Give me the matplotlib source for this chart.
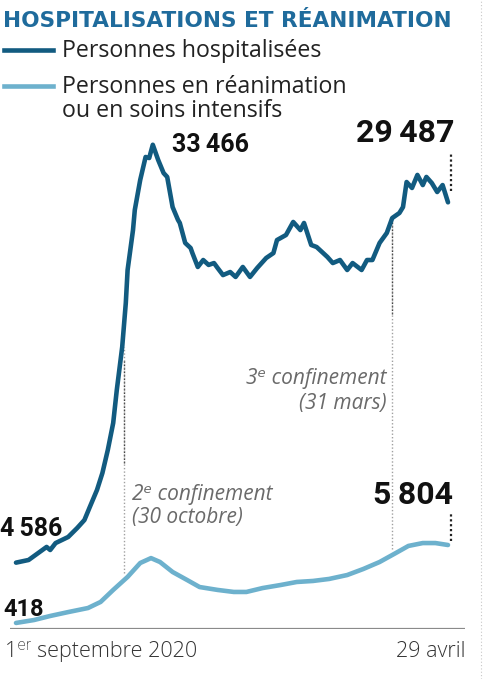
import matplotlib
matplotlib.use('Agg')
import matplotlib.pyplot as plt
from matplotlib.lines import Line2D

# days counted from 1 Sept 2020 (day 240 = 29 April 2021)
hosp_days = [0, 7, 17, 19, 22, 29, 34, 38, 41, 45, 48, 51, 54, 56, 59, 61, 62, 65,
             66, 69, 72, 74, 76, 79, 82, 84, 87, 90, 91, 94, 97, 98, 101, 104, 107,
             110, 112, 115, 119, 122, 126, 130, 134, 139, 143, 145, 150, 154, 158,
             160, 164, 167, 173, 176, 180, 184, 187, 192, 195, 198, 202, 206, 209,
             213, 215, 217, 220, 223, 226, 228, 231, 234, 237, 240]
hosp_vals = [4586, 4770, 5670, 5460, 5940, 6360, 6980, 7530, 8430, 9610, 10780,
             12370, 14240, 16520, 19490, 22530, 24810, 27570, 28960, 31030, 32620,
             32550, 33466, 32410, 31510, 31240, 29160, 28270, 28060, 26680, 26330,
             25980, 25020, 25500, 25160, 25290, 24950, 24460, 24670, 24330, 25020,
             24330, 24950, 25640, 25980, 26880, 27230, 28130, 27570, 28060, 26540,
             26400, 25710, 25290, 25500, 24810, 25290, 24810, 25500, 25500, 26680,
             27370, 28400, 28750, 29160, 30890, 30480, 31380, 30680, 31240, 30820,
             30200, 30680, 29487]

icu_days = [0, 10, 19, 29, 40, 47, 54, 62, 69, 75, 80, 87, 95, 102, 112, 121, 128,
            137, 147, 156, 165, 174, 184, 193, 202, 211, 218, 226, 233, 240]
icu_vals = [418, 620, 900, 1170, 1450, 1870, 2700, 3600, 4560, 4900, 4630, 3940,
            3390, 2900, 2700, 2560, 2560, 2830, 3040, 3250, 3320, 3460, 3730, 4150,
            4630, 5250, 5740, 5940, 5940, 5804]

conf2_day = 59    # 30 octobre
conf3_day = 211   # 31 mars

DARK = '#125b80'
LIGHT = '#6db1cd'
TITLE = '#1f6b9c'
GREY = '#6a6a6a'

W, H = 484, 679
fig = plt.figure(figsize=(W / 100, H / 100), dpi=100)

def fx(x):
    return x / W

def fy(y):
    return 1 - y / H

# axes: day 0 at px 16, day 240 at px 448 ; value 0 at px 629
ax = fig.add_axes([fx(10), fy(629), fx(465) - fx(10), fy(100) - fy(629)])
px_per_day = (448 - 16) / 240
ax.set_xlim(-(16 - 10) / px_per_day, 240 + (465 - 448) / px_per_day)
ax.set_ylim(0, 529 / 0.01447)
ax.axis('off')

ax.plot(icu_days, icu_vals, color=LIGHT, lw=3.3, solid_capstyle='round', zorder=3)
ax.plot(hosp_days, hosp_vals, color=DARK, lw=3.3, solid_capstyle='round', zorder=4)

# baseline
ax.axhline(0, color='#8a8a8a', lw=1.6, zorder=2)

# confinement markers
h2 = hosp_vals[hosp_days.index(conf2_day)]
ax.vlines(conf2_day + 0.8, 3900, h2, colors='#a0a0a0', linestyles=(0, (1, 1.5)), lw=1.0)
ax.vlines(conf2_day + 0.8, 11500, h2 - 800, colors='#444444', linestyles=(0, (1, 1.5)), lw=1.0)
ax.vlines(conf3_day - 2, 5500, 28200, colors='#a0a0a0', linestyles=(0, (1, 1.5)), lw=1.0)
ax.vlines(conf3_day - 2, 21800, 28200, colors='#444444', linestyles=(0, (1, 1.5)), lw=1.0)

# end markers
ax.vlines(241.5, 30300, 32950, colors='#222222', linestyles=(0, (1, 1.2)), lw=1.6)
ax.vlines(241.5, 6050, 8100, colors='#222222', linestyles=(0, (1, 1.2)), lw=1.6)

# title and legend
fig.text(fx(3), fy(27), 'HOSPITALISATIONS ET RÉANIMATION', color=TITLE,
         fontsize=15.6, fontweight='bold', family=['DejaVu Sans'],
         va='baseline', ha='left')
fig.add_artist(Line2D([fx(4), fx(53)], [fy(50), fy(50)], color=DARK, lw=3.3))
fig.add_artist(Line2D([fx(4), fx(53)], [fy(86), fy(86)], color=LIGHT, lw=3.3))
leg_kw = dict(fontsize=16.7, family=['Open Sans', 'DejaVu Sans'], color='#222222',
              va='baseline', ha='left')
fig.text(fx(62), fy(57), 'Personnes hospitalisées', **leg_kw)
fig.text(fx(62), fy(93), 'Personnes en réanimation', **leg_kw)
fig.text(fx(62), fy(117), 'ou en soins intensifs', **leg_kw)

# value labels
num_kw = dict(family=['Roboto', 'DejaVu Sans'], fontweight='bold', color='#111111',
              va='baseline')
fig.text(fx(172), fy(152), '33\u2009466', fontsize=18, ha='left', **num_kw)
fig.text(fx(455), fy(142), '29\u2009487', fontsize=23, ha='right', **num_kw)
fig.text(fx(453), fy(504), '5\u2009804', fontsize=23, ha='right', **num_kw)
fig.text(fx(0), fy(536), '4\u2009586', fontsize=18, ha='left', **num_kw)
fig.text(fx(3), fy(616), '418', fontsize=17, ha='left', **num_kw)

# annotations
ann_kw = dict(family=['Open Sans', 'Roboto', 'DejaVu Sans'], fontsize=15,
              style='italic', color=GREY, va='baseline')
fig.text(fx(387), fy(384), '3\u1d49 confinement', ha='right', **ann_kw)
fig.text(fx(387), fy(409), '(31 mars)', ha='right', **ann_kw)
fig.text(fx(132), fy(500), '2\u1d49 confinement', ha='left', **ann_kw)
fig.text(fx(132), fy(523), '(30 octobre)', ha='left', **ann_kw)

# x labels
x_kw = dict(family=['Open Sans', 'Roboto', 'DejaVu Sans'], fontsize=15.5,
            fontweight='light', color='#333333', va='baseline')
fig.text(fx(5), fy(657), '1\u1d49\u02b3 septembre 2020', ha='left', **x_kw)
fig.text(fx(465), fy(657), '29 avril', ha='right', **x_kw)

# page border on the right
fig.add_artist(Line2D([fx(481), fx(481)], [0, 1], color='#c8c8c8', lw=0.8,
                      linestyle=(0, (1, 2))))

fig.savefig('out.png', dpi=100)
